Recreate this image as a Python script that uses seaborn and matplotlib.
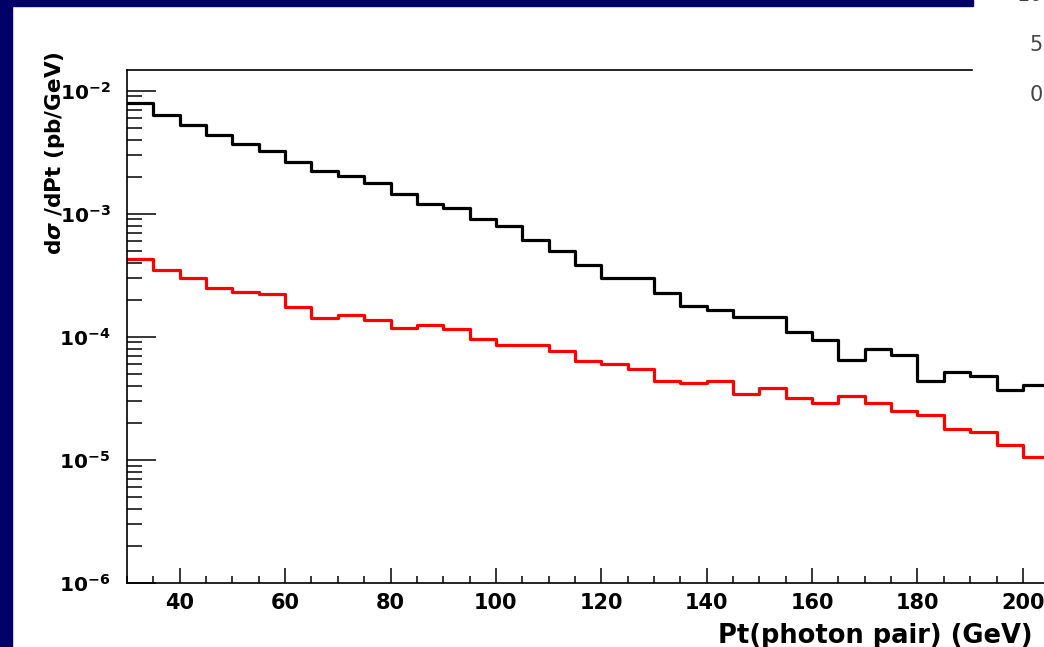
import matplotlib
matplotlib.use("Agg")
import matplotlib.pyplot as plt
import seaborn as sns
from matplotlib.patches import Rectangle
from matplotlib.ticker import MultipleLocator, LogLocator, NullFormatter, FixedLocator

plt.rcParams['font.family'] = ['DejaVu Sans']
plt.rcParams['mathtext.fontset'] = 'custom'
plt.rcParams['mathtext.rm'] = 'DejaVu Sans:bold'
plt.rcParams['mathtext.bf'] = 'DejaVu Sans:bold'
plt.rcParams['mathtext.it'] = 'DejaVu Sans:italic:bold'

# =============================================================================
#                              DATA
# =============================================================================
pt_edges = list(range(30, 210, 5))   # 5 GeV bins, 30 -> 205

# upper histogram (black)
black_vals = [7.90e-3, 6.38e-3, 5.26e-3, 4.39e-3, 3.69e-3, 3.22e-3, 2.63e-3,
              2.24e-3, 2.03e-3, 1.78e-3, 1.45e-3, 1.20e-3, 1.11e-3, 9.06e-4,
              7.94e-4, 6.15e-4, 4.95e-4, 3.80e-4, 3.02e-4, 3.02e-4, 2.28e-4,
              1.77e-4, 1.65e-4, 1.45e-4, 1.45e-4, 1.09e-4, 9.40e-5, 6.43e-5,
              7.94e-5, 7.10e-5, 4.39e-5, 5.14e-5, 4.79e-5, 3.69e-5, 4.05e-5]

# lower histogram (red)
red_vals = [4.31e-4, 3.51e-4, 3.00e-4, 2.47e-4, 2.32e-4, 2.24e-4, 1.73e-4,
            1.41e-4, 1.49e-4, 1.37e-4, 1.18e-4, 1.24e-4, 1.15e-4, 9.57e-5,
            8.51e-5, 8.51e-5, 7.61e-5, 6.34e-5, 5.97e-5, 5.50e-5, 4.37e-5,
            4.18e-5, 4.37e-5, 3.42e-5, 3.83e-5, 3.21e-5, 2.90e-5, 3.31e-5,
            2.88e-5, 2.49e-5, 2.31e-5, 1.78e-5, 1.67e-5, 1.32e-5, 1.05e-5]

ytick_vals = [1e-6, 1e-5, 1e-4, 1e-3, 1e-2]
ytick_labels = [r'$10^{-6}$', r'$10^{-5}$', r'$10^{-4}$', r'$10^{-3}$', r'$10^{-2}$']

centers = [e + 2.5 for e in pt_edges[:-1]]

# =============================================================================
W, H = 1044, 647
fig = plt.figure(figsize=(W / 100, H / 100), dpi=100)
fig.patch.set_facecolor('white')

ax = fig.add_axes([127 / W, (H - 583) / H, 948.6 / W, (583 - 70) / H])

sns.histplot(x=centers, weights=black_vals, bins=pt_edges, element='step',
             fill=False, color='black', linewidth=2.3, ax=ax)
sns.histplot(x=centers, weights=red_vals, bins=pt_edges, element='step',
             fill=False, color='#ff0000', linewidth=2.3, ax=ax)

ax.set_yscale('log')
ax.set_xlim(30, 210)
ax.set_ylim(1e-6, 1.47e-2)
ax.set_xlabel('')
ax.set_ylabel('')

ax.spines['right'].set_visible(False)
for s in ['left', 'bottom', 'top']:
    ax.spines[s].set_linewidth(1.2)

ax.xaxis.set_major_locator(FixedLocator([40, 60, 80, 100, 120, 140, 160, 180, 200]))
ax.xaxis.set_minor_locator(MultipleLocator(5))
ax.yaxis.set_major_locator(FixedLocator(ytick_vals))
ax.set_yticklabels(ytick_labels)
ax.yaxis.set_minor_locator(LogLocator(base=10, subs=range(2, 10)))
ax.yaxis.set_minor_formatter(NullFormatter())

ax.tick_params(axis='both', which='both', direction='in', top=False, right=False, width=1.1)
ax.tick_params(axis='x', which='major', length=10.8, pad=7, labelsize=15)
ax.tick_params(axis='x', which='minor', length=5)
ax.tick_params(axis='y', which='major', length=21, pad=12, labelsize=14.5)
ax.tick_params(axis='y', which='minor', length=10.5)
for lab in ax.get_xticklabels():
    lab.set_fontweight('bold')

# axis titles
fig.text(55 / W, (H - 153) / H, r'd$\sigma$ /dPt (pb/GeV)', rotation=90,
         fontsize=15.5, fontweight='bold', ha='center', va='center')
fig.text(718 / W, 3.7 / H, 'Pt(photon pair) (GeV)', fontsize=18.5,
         fontweight='bold', ha='left', va='baseline')

# frame of the slide
fig.add_artist(Rectangle((0, 0), 12 / W, 1, transform=fig.transFigure,
                         color='#000066', zorder=10))
fig.add_artist(Rectangle((0, (H - 6) / H), 973 / W, 6 / H, transform=fig.transFigure,
                         color='#000066', zorder=10))

# piece of another picture on the top right
fig.add_artist(Rectangle((973 / W, (H - 120) / H), (W - 973) / W, 120 / H,
                         transform=fig.transFigure, color='white', zorder=5))
for txt, yy in [('10', -5), ('5', 45), ('0', 95)]:
    fig.text(1043 / W, (H - yy) / H, txt, fontsize=15, color='#444444',
             family='DejaVu Sans', ha='right', va='center', zorder=6)

fig.savefig('out.png', dpi=100)
